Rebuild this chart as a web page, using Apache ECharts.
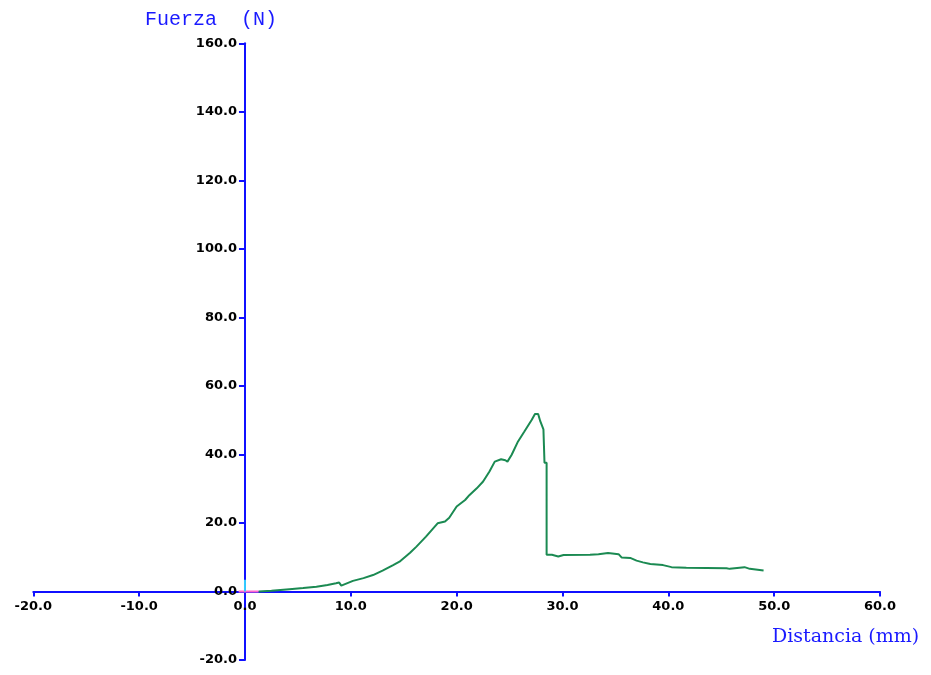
<!DOCTYPE html>
<html>
<head>
<meta charset="utf-8">
<script src="https://cdn.jsdelivr.net/npm/echarts@6/dist/echarts.min.js"></script>
<style>
  html, body { margin: 0; padding: 0; background: #fff; }
  #chart { width: 931px; height: 675px; }
</style>
</head>
<body>
<div id="chart"></div>
<script>
// Force–distance curve (Fuerza vs Distancia)
const distancia = [1.3, 2.5, 4.2, 5.5, 6.75, 7.8, 8.6, 8.9, 9.1, 10.2, 11.2, 12.1, 13.0, 14.0,
  14.6, 15.6, 16.2, 17.1, 18.2, 18.9, 19.3, 20.0, 20.8, 21.2, 21.9, 22.5, 23.1, 23.6, 24.2,
  24.6, 24.8, 25.2, 25.8, 26.4, 27.1, 27.4, 27.7, 27.9, 28.2, 28.3, 28.3, 28.5, 28.5, 29.0,
  29.6, 30.1, 32.6, 33.4, 34.3, 35.3, 35.6, 36.4, 37.0, 37.6, 38.3, 39.5, 40.3, 41.7, 45.5,
  45.8, 47.2, 47.7, 49.0];
const fuerza = [0, 0.2, 0.65, 1.0, 1.4, 1.9, 2.4, 2.6, 1.7, 3.1, 3.9, 4.8, 6.1, 7.7,
  8.7, 11.3, 13.1, 16.0, 19.9, 20.4, 21.5, 24.8, 26.7, 28.1, 30.1, 32.1, 35.0, 37.9, 38.6,
  38.3, 37.9, 39.9, 43.8, 46.7, 50.1, 51.8, 51.8, 49.7, 47.3, 47.3, 37.6, 37.6, 10.7, 10.7,
  10.2, 10.65, 10.75, 10.9, 11.2, 10.9, 9.9, 9.8, 9.0, 8.5, 8.0, 7.7, 7.1, 6.9, 6.8,
  6.6, 7.1, 6.6, 6.1];

// Small origin markers (pre-load segment and zero reference)
const marcaX = [-0.6, 1.3];
const marcaY = [0, 0];
const origenX = [0, 0];
const origenY = [0, 3.4];

const xTicks = { min: -20, max: 60, interval: 10 };
const yTicks = { min: -20, max: 160, interval: 20 };

const zip = (a, b) => a.map((v, i) => [v, b[i]]);

const chart = echarts.init(document.getElementById('chart'), null, { renderer: 'canvas' });
const labelStyle = {
  color: '#000',
  fontFamily: 'DejaVu Sans',
  fontWeight: 'bold',
  fontSize: 13,
  formatter: v => v.toFixed(1)
};
const axisBlue = '#1010ff';
chart.setOption({
  animation: false,
  backgroundColor: '#fff',
  grid: { left: 33.3, right: 51, top: 43.3, bottom: 15, containLabel: false, outerBoundsMode: 'none' },
  xAxis: {
    type: 'value', position: 'bottom',
    min: xTicks.min, max: xTicks.max, interval: xTicks.interval,
    axisLine: { onZero: false, lineStyle: { color: axisBlue, width: 2 } },
    axisTick: { show: true, length: 5, lineStyle: { color: axisBlue, width: 2 } },
    axisLabel: Object.assign({ margin: 9 }, labelStyle),
    splitLine: { show: false }
  },
  yAxis: {
    type: 'value', position: 'left',
    min: yTicks.min, max: yTicks.max, interval: yTicks.interval,
    axisLine: { show: true, onZero: false, lineStyle: { color: axisBlue, width: 2 } },
    axisTick: { show: true, length: 6, lineStyle: { color: axisBlue, width: 2 } },
    axisLabel: Object.assign({ margin: 8 }, labelStyle),
    splitLine: { show: false }
  },
  graphic: [
    {
      type: 'text', left: 145, top: 10,
      style: { text: 'Fuerza  (N)', fill: '#1a1aff', font: '20px "Liberation Mono"' }
    },
    {
      type: 'text', left: 772, top: 628,
      style: { text: 'Distancia (mm)', fill: '#1a1aff', font: '19px "DejaVu Serif"' }
    }
  ],
  series: [
    {
      type: 'line', data: zip(marcaX, marcaY), symbol: 'none',
      lineStyle: { color: '#ff66cc', width: 2 }, z: 3
    },
    {
      type: 'line', data: zip(origenX, origenY), symbol: 'none',
      lineStyle: { color: '#33ccff', width: 2 }, z: 3
    },
    {
      type: 'line', data: zip(distancia, fuerza), symbol: 'none',
      lineStyle: { color: '#1b8a52', width: 2 }, z: 4
    }
  ]
});

// Move both axes (line, ticks and labels) onto the origin of the plot
const origin = chart.convertToPixel({ gridIndex: 0 }, [0, 0]);
const corner = chart.convertToPixel({ gridIndex: 0 }, [xTicks.min, yTicks.min]);
chart.setOption({
  xAxis: { offset: -(corner[1] - origin[1]) },
  yAxis: { offset: -(origin[0] - corner[0]) }
});
</script>
</body>
</html>
